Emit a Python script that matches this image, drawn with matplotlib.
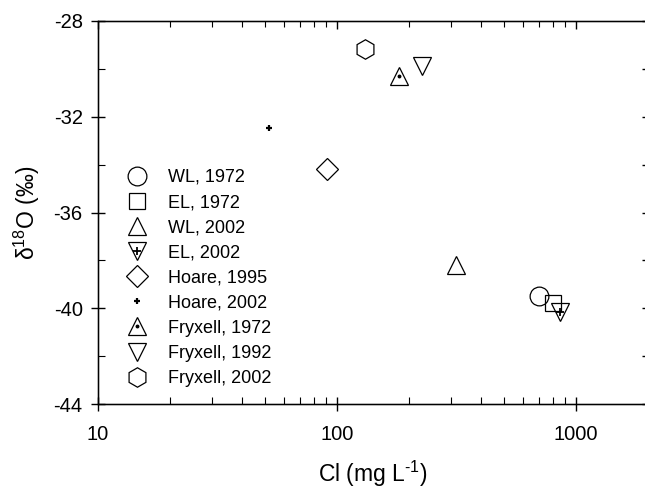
import numpy as np
import matplotlib
matplotlib.use("Agg")
import matplotlib.pyplot as plt
from matplotlib.ticker import LogLocator, MultipleLocator, FixedLocator, NullFormatter

plt.rcParams['font.family'] = ['Liberation Sans', 'DejaVu Sans']
plt.rcParams['mathtext.fontset'] = 'custom'
plt.rcParams['mathtext.rm'] = 'Liberation Sans'
plt.rcParams['mathtext.it'] = 'Liberation Sans'
plt.rcParams['axes.unicode_minus'] = False

# Cl (mg/L) and d18O (permil)
labels = ["WL, 1972", "EL, 1972", "WL, 2002", "EL, 2002", "Hoare, 1995",
          "Hoare, 2002", "Fryxell, 1972", "Fryxell, 1992", "Fryxell, 2002"]
cl = [700, 800, 315, 860, 91, 52, 181, 227, 131]
d18o = [-39.5, -39.8, -38.2, -40.15, -34.2, -32.45, -30.3, -29.9, -29.15]

markers = ['o', 's', '^', 'v', 'D', '+', '^', 'v', 'h']
sizes = [13.5, 12, 13.5, 13.5, 11, 5, 13.5, 13.5, 14]
# small marks drawn inside some symbols
inner = {3: ('+', 6), 6: ('.', 3)}

fig = plt.figure(figsize=(6.45, 4.88), dpi=100)
ax = fig.add_axes([98 / 645, 84 / 488, 550 / 645, 383 / 488])

handles = []
for i in range(len(labels)):
    mew = 1.6 if markers[i] == '+' else 0.9
    h, = ax.plot(cl[i], d18o[i], linestyle='none', marker=markers[i],
                 ms=sizes[i], mfc='none', mec='black', mew=mew, color='black')
    if i in inner:
        m, s = inner[i]
        h2, = ax.plot(cl[i], d18o[i], linestyle='none', marker=m, ms=s,
                      mfc='black', mec='black', mew=1.3, color='black')
        handles.append((h, h2))
    else:
        handles.append(h)

ax.set_xscale('log')
ax.set_xlim(10, 2000)
ax.set_ylim(-44, -28)
ax.yaxis.set_major_locator(MultipleLocator(4))
ax.yaxis.set_minor_locator(MultipleLocator(2))
ax.xaxis.set_major_locator(FixedLocator([10, 100, 1000]))
ax.xaxis.set_major_formatter(matplotlib.ticker.FixedFormatter(['10', '100', '1000']))
ax.xaxis.set_minor_locator(LogLocator(base=10, subs=np.arange(2, 10)))
ax.xaxis.set_minor_formatter(NullFormatter())

for sp in ax.spines.values():
    sp.set_linewidth(1.0)

ax.tick_params(which='major', direction='inout', length=10, width=1.0,
               labelsize=14.5, top=False, right=False)
ax.tick_params(axis='x', which='major', pad=10)
ax.tick_params(axis='y', which='major', pad=6)
ax.tick_params(which='minor', direction='in', length=5, width=0.8,
               top=True, right=True)
# inward ticks on the top and right spines
ax2 = ax.twinx()
ax2.set_ylim(ax.get_ylim())
ax2.yaxis.set_major_locator(MultipleLocator(4))
ax2.yaxis.set_minor_locator(MultipleLocator(2))
ax2.tick_params(which='both', direction='in', length=4, width=1.0, labelright=False)
ax3 = ax.twiny()
ax3.set_xscale('log')
ax3.set_xlim(ax.get_xlim())
ax3.xaxis.set_major_locator(FixedLocator([10, 100, 1000]))
ax3.xaxis.set_minor_locator(LogLocator(base=10, subs=np.arange(2, 10)))
ax3.xaxis.set_minor_formatter(NullFormatter())
ax3.tick_params(which='major', direction='in', length=6, width=1.0, labeltop=False)
ax3.tick_params(which='minor', direction='in', length=4, width=0.8)

ax.set_xlabel(r'Cl (mg L$^{\text{-1}}$)', fontsize=16.5, labelpad=11)
ax.set_ylabel('δ$^{18}$O (‰)', fontsize=16.5, labelpad=8)

ax.legend(handles, labels, loc='upper left', frameon=False, fontsize=13,
          bbox_to_anchor=(124.5 / 645, 1 - 169 / 488), bbox_transform=fig.transFigure,
          borderpad=0, borderaxespad=0, handlelength=1.4, handletextpad=1.0,
          labelspacing=0.45)

fig.savefig('out.png', dpi=100)
